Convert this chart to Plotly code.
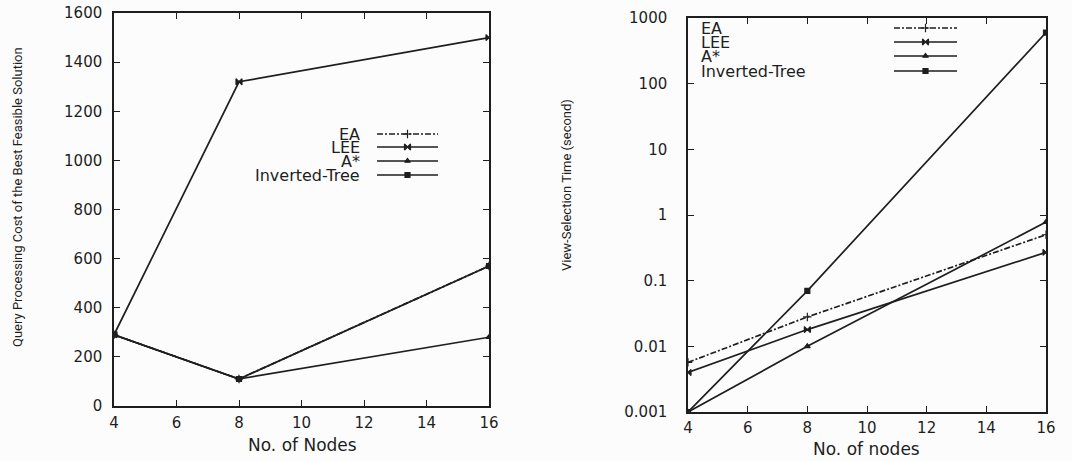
import plotly.graph_objects as go

# Number of nodes in the test graphs
nodes = [4, 8, 16]

# Query processing cost of the best feasible solution
cost_ea = [290, 110, 570]
cost_lee = [290, 1320, 1500]
cost_astar = [290, 110, 280]
cost_inverted = [290, 110, 570]

# View-selection time in seconds
time_ea = [0.0057, 0.028, 0.50]
time_lee = [0.004, 0.018, 0.27]
time_astar = [0.001, 0.010, 0.78]
time_inverted = [0.001, 0.070, 600]

series_names = ["EA", "LEE", "A*", "Inverted-Tree"]
cost_ticks = [0, 200, 400, 600, 800, 1000, 1200, 1400, 1600]
node_ticks = [4, 6, 8, 10, 12, 14, 16]
time_ticks = [0.001, 0.01, 0.1, 1, 10, 100, 1000]
time_ticktext = ["0.001", "0.01", "0.1", "1", "10", "100", "1000"]

W, H = 1072, 461
INK = "#1e1e1e"
BG = "#fcfcfc"
TICK_FONT = dict(family="DejaVu Sans, Arial, sans-serif", size=15, color=INK)
LEGEND_FONT = dict(family="DejaVu Sans, Arial, sans-serif", size=16, color=INK)
TITLE_FONT = dict(family="DejaVu Sans, Arial, sans-serif", size=17, color=INK)
NARROW_FONT = dict(family="Liberation Sans Narrow, Arial Narrow, Roboto, sans-serif",
                   size=13, color=INK)

styles = [
    dict(dash="6px,2px,2px,2px", symbol="cross-thin-open", size=6),
    dict(dash="solid", symbol="bowtie", size=6),
    dict(dash="solid", symbol="triangle-up", size=5),
    dict(dash="solid", symbol="square", size=5),
]

fig = go.Figure()

def add_series(xs, ys, style, xa, ya):
    fig.add_trace(go.Scatter(
        x=xs, y=ys, mode="lines+markers", xaxis=xa, yaxis=ya,
        line=dict(color=INK, width=1.7, dash=style["dash"]),
        marker=dict(symbol=style["symbol"], size=style["size"], color=INK,
                    line=dict(color=INK, width=1.2)),
        showlegend=False, hoverinfo="skip"))

for ys, st in zip([cost_ea, cost_lee, cost_astar, cost_inverted], styles):
    add_series(nodes, ys, st, "x", "y")
for ys, st in zip([time_ea, time_lee, time_astar, time_inverted], styles):
    add_series(nodes, ys, st, "x2", "y2")

# Legend keys drawn on a full-figure pixel overlay
def legend_block(x0, x1, ys, text_x, anchor):
    for name, y, st in zip(series_names, ys, styles):
        fig.add_trace(go.Scatter(
            x=[x0, (x0 + x1) / 2, x1], y=[y, y, y], mode="lines", xaxis="x3", yaxis="y3",
            line=dict(color=INK, width=1.7, dash=st["dash"]),
            showlegend=False, hoverinfo="skip"))
        fig.add_trace(go.Scatter(
            x=[(x0 + x1) / 2], y=[y], mode="markers", xaxis="x3", yaxis="y3",
            marker=dict(symbol=st["symbol"], size=st["size"], color=INK,
                        line=dict(color=INK, width=1.2)),
            showlegend=False, hoverinfo="skip"))
        fig.add_annotation(x=text_x, y=y, xref="x3", yref="y3", text=name,
                           showarrow=False, xanchor=anchor, yanchor="middle",
                           borderpad=0, font=LEGEND_FONT)

legend_block(377, 438, [134, 147, 161, 175], 361, "right")
legend_block(894, 957, [28, 42, 56, 71], 700, "left")

axis_common = dict(showline=True, linecolor=INK, linewidth=1.5, mirror="ticks",
                   ticks="inside", ticklen=6, tickcolor=INK, tickwidth=1.3,
                   showgrid=False, zeroline=False, tickfont=TICK_FONT,
                   automargin=False)

fig.update_layout(
    width=W, height=H,
    margin=dict(l=0, r=0, t=0, b=0, pad=0),
    paper_bgcolor=BG, plot_bgcolor="rgba(0,0,0,0)",
    xaxis=dict(domain=[114 / W, 489 / W], range=[4, 16], tickvals=node_ticks,
               anchor="y", ticklabelstandoff=2, **axis_common),
    yaxis=dict(domain=[1 - 406 / H, 1 - 13 / H], range=[0, 1600], tickvals=cost_ticks,
               anchor="x", ticklabelstandoff=7, **axis_common),
    xaxis2=dict(domain=[688 / W, 1046 / W], range=[4, 16], tickvals=node_ticks,
                anchor="y2", ticklabelstandoff=1, **axis_common),
    yaxis2=dict(domain=[1 - 412 / H, 1 - 18 / H], type="log", range=[-3, 3],
                tickvals=time_ticks, ticktext=time_ticktext,
                anchor="x2", ticklabelstandoff=16, **axis_common),
    xaxis3=dict(domain=[0, 1], range=[0, W], visible=False, anchor="y3",
                automargin=False),
    yaxis3=dict(domain=[0, 1], range=[H, 0], visible=False, anchor="x3",
                automargin=False),
)

# Axis titles, placed on the pixel overlay
title_pos = dict(xref="x3", yref="y3", xanchor="center", yanchor="middle",
                 showarrow=False)
fig.add_annotation(x=302, y=445, text="No. of Nodes", font=TITLE_FONT, **title_pos)
fig.add_annotation(x=866, y=449, text="No. of nodes", font=TITLE_FONT, **title_pos)
fig.add_annotation(x=17, y=197,
                   text="Query Processing Cost of the Best Feasible Solution",
                   textangle=-90, font=NARROW_FONT, **title_pos)
fig.add_annotation(x=566, y=185, text="View-Selection Time (second)",
                   textangle=-90, font=NARROW_FONT, **title_pos)

fig.write_html("out.html")
